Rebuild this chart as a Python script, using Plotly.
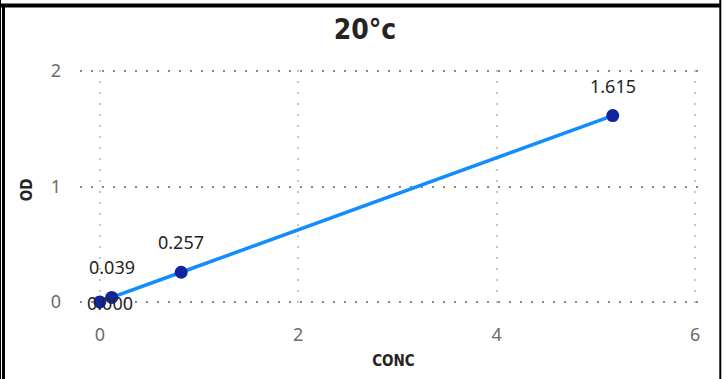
import plotly.graph_objects as go

conc = [0.0, 0.12, 0.82, 5.17]
od = [0.000, 0.039, 0.257, 1.615]
labels = ["0.000", "0.039", "0.257", "1.615"]
x_ticks = [0, 2, 4, 6]
y_ticks = [0, 1, 2]

fig = go.Figure()
fig.add_trace(go.Scatter(
    x=conc, y=od, mode="lines+markers",
    line=dict(color="#118DFF", width=3.5),
    marker=dict(color="#12239E", size=13),
    cliponaxis=False, showlegend=False,
))

label_font = dict(family="Noto Sans, Segoe UI, sans-serif", size=18, color="#252423")
for i, (xv, yv, t) in enumerate(zip(conc, od, labels)):
    if i == 0:
        fig.add_annotation(x=xv, y=yv, text=t, showarrow=False, xshift=10, yshift=-1,
                           font=label_font)
    else:
        fig.add_annotation(x=xv, y=yv, text=t, showarrow=False, yshift=30,
                           font=label_font)

W, H = 726, 379
L, R, T, B = 80, 19, 70, 69
pw, ph = W - L - R, H - T - B

def px(x):
    return (x - L) / pw

def py(y):
    return (H - B - y) / ph

shapes = [
    dict(type="line", xref="paper", yref="paper", x0=px(0), x1=px(720), y0=py(5.5), y1=py(5.5),
         line=dict(color="black", width=4)),
    dict(type="line", xref="paper", yref="paper", x0=px(0.5), x1=px(0.5), y0=py(0), y1=py(H),
         line=dict(color="black", width=1)),
    dict(type="line", xref="paper", yref="paper", x0=px(3.5), x1=px(3.5), y0=py(4), y1=py(H),
         line=dict(color="black", width=3)),
    dict(type="line", xref="paper", yref="paper", x0=px(720.3), x1=px(720.3), y0=py(0), y1=py(H),
         line=dict(color="black", width=2)),
]

cond = "Liberation Sans Narrow, DejaVu Sans Condensed, Arial Narrow, DejaVu Sans, sans-serif"

fig.update_layout(
    width=W, height=H,
    margin=dict(l=L, r=R, t=T, b=B),
    paper_bgcolor="white", plot_bgcolor="white",
    title=dict(text="<b>20°c</b>", x=365 / W, xref="container", xanchor="center", y=1 - 29 / H, yanchor="middle",
               font=dict(family=cond, size=28, color="#252423")),
    shapes=shapes,
    xaxis=dict(
        range=[-0.2, 6.12], tickvals=x_ticks, ticktext=[str(v) for v in x_ticks],
        showgrid=True, gridcolor="#C8C6C4", griddash="2px,9px", gridwidth=1.5,
        zeroline=False, showline=False,
        tickfont=dict(family="Noto Sans, Segoe UI, sans-serif", size=18, color="#6E6C6A"),
        ticklabelstandoff=12,
        title=dict(text="CONC", standoff=10,
                   font=dict(family=cond, size=15, color="#252423", weight="bold")),
    ),
    yaxis=dict(
        range=[-0.07, 2.01], tickvals=y_ticks, ticktext=[str(v) for v in y_ticks],
        showgrid=True, gridcolor="#8A8886", griddash="2px,9px", gridwidth=2,
        zeroline=False, showline=False,
        tickfont=dict(family="Noto Sans, Segoe UI, sans-serif", size=18, color="#6E6C6A"),
        ticklabelstandoff=18,
        title=dict(text="OD", standoff=14,
                   font=dict(family=cond, size=15, color="#252423", weight="bold")),
    ),
)

fig.write_html("out.html", config={"displayModeBar": False},
               post_script="document.body.style.margin='0';")
